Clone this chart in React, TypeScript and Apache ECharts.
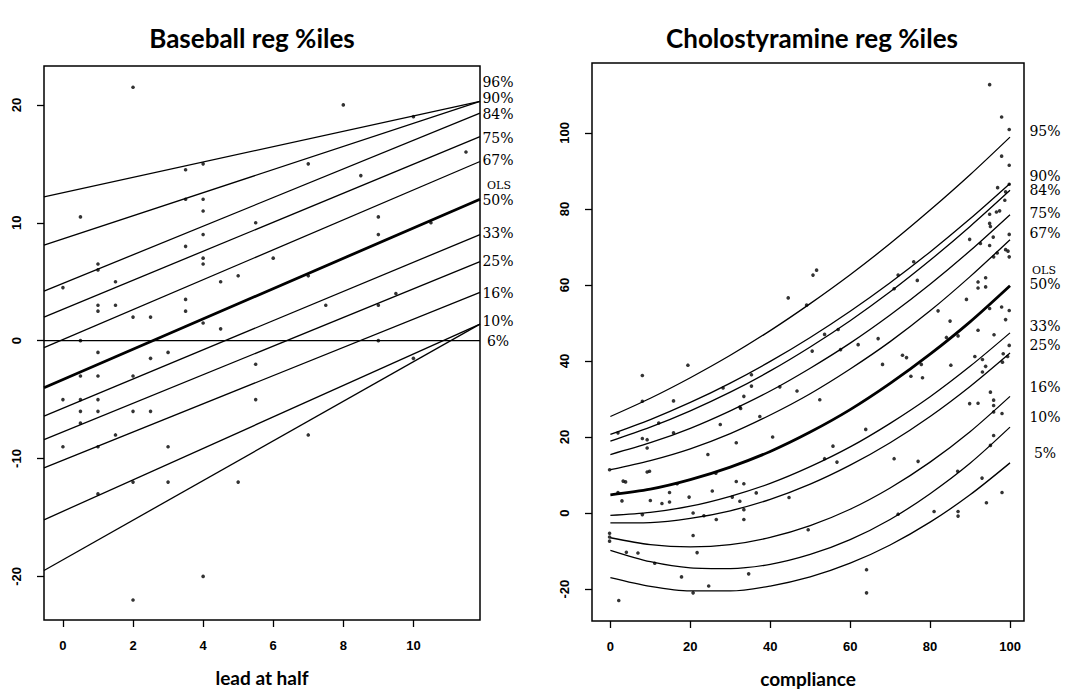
import React, { useEffect, useRef } from "react";
import * as echarts from "echarts";

// ---------- Baseball panel data ----------
const bbXRange = [-0.54, 11.9];
const bbYRange = [-23.7, 23.3];
const bbXTicks = [0, 2, 4, 6, 8, 10];
const bbYTicks = [-20, -10, 0, 10, 20];
const bbQuantiles = ["96%", "90%", "84%", "75%", "67%", "50%", "33%", "25%", "16%", "10%", "6%"];
// fitted line values at the left and right edges of the plot
const bbLeftEnd = [12.2, 8.1, 4.2, 2.0, -0.6, -4.0, -6.4, -8.4, -10.8, -15.2, -19.5];
const bbRightEnd = [20.3, 20.3, 19.3, 17.3, 15.2, 12.0, 9.0, 6.7, 4.1, 1.4, 1.4];
const bbPoints: number[][] = [
  [2, 21.5], [0.5, 10.5], [0, 4.5], [1, 6.5], [1, 6], [1.5, 5], [1, 3], [1, 2.5], [1.5, 3], [2, 2],
  [2.5, 2], [3.5, 14.5], [4, 15], [3.5, 12], [4, 12], [4, 11], [3.5, 8], [4, 9], [4, 7], [4, 6.5],
  [3.5, 3.5], [3.5, 2.5], [4, 1.5], [4.5, 5], [5, 5.5], [4.5, 1], [5.5, 10], [5.5, -2], [0.5, 0],
  [2.5, -1.5], [3, -1], [1, -1], [0.5, -3], [1, -3], [2, -3], [0, -5], [0.5, -5], [1, -5], [0.5, -6],
  [1, -6], [2, -6], [2.5, -6], [0.5, -7], [1.5, -8], [0, -9], [1, -9], [3, -9], [2, -12], [3, -12],
  [5, -12], [1, -13], [4, -20], [2, -22], [5.5, -5], [8, 20], [10, 19], [7, 15], [8.5, 14], [11.5, 16],
  [9, 10.5], [9, 9], [6, 7], [7, 5.5], [10.5, 10], [7.5, 3], [9, 3], [9.5, 4], [9, 0], [10, -1.5], [7, -8],
];

// ---------- Cholostyramine panel data ----------
const chXRange = [-4.6, 103.5];
const chYRange = [-28.4, 118.4];
const chXTicks = [0, 20, 40, 60, 80, 100];
const chYTicks = [-20, 0, 20, 40, 60, 80, 100];
const chQuantiles = ["95%", "90%", "84%", "75%", "67%", "50%", "33%", "25%", "16%", "10%", "5%"];
const chCompliance = [0, 10, 20, 30, 40, 50, 60, 70, 80, 90, 100];
const ch95 = [25.4, 30.2, 35.6, 41.5, 48.0, 55.1, 62.7, 70.9, 79.7, 89.0, 98.9];
const ch90 = [20.7, 24.6, 29.1, 34.2, 39.9, 46.2, 53.1, 60.6, 68.7, 77.4, 86.7];
const ch84 = [18.9, 22.6, 26.9, 31.8, 37.4, 43.7, 50.6, 58.2, 66.5, 75.4, 84.9];
const ch75 = [15.4, 18.5, 22.3, 26.9, 32.1, 38.1, 44.7, 52.1, 60.2, 69.0, 78.5];
const ch67 = [11.4, 13.8, 16.9, 20.9, 25.8, 31.4, 37.9, 45.1, 53.2, 62.2, 71.9];
const ch50 = [4.8, 6.3, 8.8, 12.1, 16.2, 21.3, 27.2, 34.1, 41.8, 50.3, 59.8];
const ch33 = [-0.6, 0.2, 1.8, 4.4, 7.8, 12.2, 17.4, 23.6, 30.6, 38.6, 47.4];
const ch25 = [-2.6, -2.5, -1.4, 0.6, 3.6, 7.6, 12.6, 18.5, 25.4, 33.3, 42.1];
const ch16 = [-6.5, -8.3, -8.9, -8.3, -6.4, -3.3, 1.0, 6.6, 13.4, 21.4, 30.7];
const ch10 = [-9.8, -12.8, -14.4, -14.6, -13.5, -10.9, -7.0, -1.7, 5.1, 13.1, 22.6];
const ch05 = [-17.0, -19.3, -20.5, -20.5, -19.2, -16.8, -13.2, -8.4, -2.4, 4.8, 13.2];
const chCurves = [ch95, ch90, ch84, ch75, ch67, ch50, ch33, ch25, ch16, ch10, ch05];
const chPoints: number[][] = [
  [8.0, 36.2], [19.4, 38.9], [8.0, 29.4], [15.8, 29.5], [1.9, 21.1], [12.1, 23.7], [8.0, 19.6], [9.2, 19.3],
  [9.2, 17.1], [15.8, 21.1], [-0.2, 11.4], [9.2, 10.8], [9.8, 11.0], [3.2, 8.4], [3.8, 8.2], [1.9, 5.4],
  [2.9, 3.2], [10.0, 3.3], [12.9, 2.5], [14.8, 2.9], [14.8, 5.4], [16.7, 7.7], [19.7, 4.2], [8.0, -0.4],
  [20.7, 0.0], [23.4, -0.7], [26.5, -1.7], [24.4, 15.4], [26.4, 10.5], [25.5, 5.8], [27.5, 23.3], [28.2, 32.9],
  [32.4, 27.9], [32.6, 27.5], [31.5, 18.5], [31.5, 8.3], [30.5, 4.2], [32.4, 3.1], [33.4, 7.7], [33.4, 0.9],
  [33.4, -1.7], [33.4, 30.7], [35.3, 36.4], [35.3, 33.4], [37.4, 25.4], [36.5, 5.3], [40.6, 20.0], [42.4, 33.2],
  [46.7, 32.1], [44.7, 4.1], [50.5, 42.6], [52.4, 29.8], [49.5, -4.4], [-0.2, -5.3], [-0.2, -6.3], [-0.2, -7.4],
  [4.0, -10.3], [6.9, -10.5], [11.1, -13.2], [20.7, -5.9], [21.7, -10.4], [17.8, -16.8], [24.6, -19.2],
  [20.7, -21.0], [34.6, -16.0], [2.1, -23.0],
  [94.9, 112.7], [97.9, 104.2], [99.8, 100.9], [97.9, 93.9], [99.8, 91.5], [96.9, 85.6], [98.9, 84.5],
  [99.8, 86.5], [98.7, 82.3], [94.9, 78.6], [96.6, 79.2], [97.4, 79.5], [94.9, 76.2], [95.1, 75.4], [89.9, 72.0],
  [92.6, 70.9], [95.8, 72.6], [94.9, 70.4], [99.8, 73.3], [98.9, 69.3], [99.5, 68.9], [96.8, 68.4], [95.9, 67.4],
  [99.8, 67.4], [75.9, 66.1], [72.0, 62.6], [76.8, 61.2], [71.0, 59.0], [92.0, 60.8], [93.9, 61.9], [92.0, 59.2],
  [93.9, 59.5], [89.1, 56.2], [82.0, 53.2], [85.0, 50.5], [97.9, 54.2], [99.8, 53.3], [98.9, 50.9], [94.9, 53.8],
  [92.0, 48.1], [96.0, 46.9], [99.8, 44.1], [84.1, 46.2], [87.0, 46.6], [73.1, 41.5], [74.1, 40.9], [91.2, 41.2],
  [98.3, 41.9], [99.4, 41.2], [49.1, 54.7], [50.7, 62.6], [51.6, 63.9], [53.6, 47.0], [57.0, 48.3], [57.6, 43.0],
  [62.0, 44.3], [67.0, 45.9], [68.1, 39.1], [75.2, 36.0], [78.1, 35.6], [77.8, 39.1], [85.2, 38.9], [44.5, 56.6],
  [93.1, 40.4], [93.9, 38.6], [93.1, 37.1], [98.1, 39.7], [63.9, 22.0], [55.7, 17.6], [53.6, 14.3], [56.7, 13.4],
  [71.0, 14.3], [77.0, 13.6], [89.9, 28.8], [92.0, 28.9], [95.1, 31.8], [95.9, 29.7], [95.9, 28.3], [95.9, 26.6],
  [98.0, 26.2], [95.9, 20.4], [95.1, 17.8], [93.0, 9.2], [98.0, 5.4], [94.1, 2.7], [86.9, 11.0], [81.0, 0.4],
  [87.0, 0.4], [87.0, -0.8], [72.0, -0.3], [64.1, -14.9], [64.1, -21.0],
];

// label placement (pixels) for the quantile annotations
const bbLabelY = [82, 98, 114, 138, 160, 200, 233, 261, 293, 321, 341];
const chLabelY = [131, 176, 190, 213, 233, 284, 326, 345, 387, 417, 453];

const SANS = "'Liberation Sans', Arial, sans-serif";
const SERIF = "'DejaVu Serif', serif";
const TITLE = "Lato, 'Open Sans', sans-serif";

function xAxisFor(grid: number, range: number[], ticks: number[], name: string) {
  return {
    gridIndex: grid,
    type: "value",
    min: range[0],
    max: range[1],
    splitLine: { show: false },
    axisLine: { show: false, onZero: false },
    axisTick: { show: true, inside: false, length: 7, customValues: ticks, lineStyle: { color: "#000", width: 1.3 } },
    axisLabel: { customValues: ticks, color: "#000", fontFamily: SANS, fontWeight: "bold", fontSize: 13, margin: 19 },
    name,
    nameLocation: "middle",
    nameGap: 48,
    nameTextStyle: { color: "#000", fontFamily: TITLE, fontWeight: "bold", fontSize: 19 },
  };
}

function yAxisFor(grid: number, range: number[], ticks: number[]) {
  return {
    gridIndex: grid,
    type: "value",
    min: range[0],
    max: range[1],
    splitLine: { show: false },
    axisLine: { show: false, onZero: false },
    axisTick: { show: true, inside: false, length: 7, customValues: ticks, lineStyle: { color: "#000", width: 1.3 } },
    axisLabel: { customValues: ticks, rotate: 90, color: "#000", fontFamily: SANS, fontWeight: "bold", fontSize: 13, margin: 21 },
  };
}

export default function App() {
  const ref = useRef<HTMLDivElement>(null);
  useEffect(() => {
    const chart = echarts.init(ref.current!, null, { renderer: "svg" });
    const series: any[] = [];

    // baseball zero line
    series.push({
      type: "line", xAxisIndex: 0, yAxisIndex: 0, symbol: "none", silent: true,
      data: [[bbXRange[0], 0], [bbXRange[1], 0]],
      lineStyle: { color: "#000", width: 1.1 },
    });
    bbQuantiles.forEach((q, i) => {
      series.push({
        type: "line", name: q, xAxisIndex: 0, yAxisIndex: 0, symbol: "none", silent: true,
        data: [[bbXRange[0], bbLeftEnd[i]], [bbXRange[1], bbRightEnd[i]]],
        lineStyle: { color: "#000", width: q === "50%" ? 2.8 : 1.3 },
      });
    });
    series.push({
      type: "scatter", xAxisIndex: 0, yAxisIndex: 0, data: bbPoints, symbol: "circle", symbolSize: 3.6,
      itemStyle: { color: "#000" }, silent: true,
    });

    chQuantiles.forEach((q, i) => {
      series.push({
        type: "line", name: "c" + q, xAxisIndex: 1, yAxisIndex: 1, symbol: "none", silent: true, smooth: 0.3,
        data: chCompliance.map((x, k) => [x, chCurves[i][k]]),
        lineStyle: { color: "#000", width: q === "50%" ? 2.8 : 1.3 },
      });
    });
    series.push({
      type: "scatter", xAxisIndex: 1, yAxisIndex: 1, data: chPoints, symbol: "circle", symbolSize: 3.6,
      itemStyle: { color: "#000" }, silent: true,
    });

    const labelEls: any[] = [];
    const pctFont = "14px " + SERIF;
    bbQuantiles.forEach((q, i) => {
      labelEls.push({ type: "text", x: 498, y: bbLabelY[i], style: { text: q, font: pctFont, fill: "#000", align: "center", verticalAlign: "middle" } });
    });
    labelEls.push({ type: "text", x: 499, y: 185, style: { text: "OLS", font: "11px " + SERIF, fill: "#000", align: "center", verticalAlign: "middle" } });
    chQuantiles.forEach((q, i) => {
      labelEls.push({ type: "text", x: 1045, y: chLabelY[i], style: { text: q, font: pctFont, fill: "#000", align: "center", verticalAlign: "middle" } });
    });
    labelEls.push({ type: "text", x: 1044, y: 270, style: { text: "OLS", font: "11px " + SERIF, fill: "#000", align: "center", verticalAlign: "middle" } });
    labelEls.push({ type: "text", x: 252, y: 38, style: { text: "Baseball reg %iles", font: "bold 26px " + TITLE, fill: "#000", align: "center", verticalAlign: "middle" } });
    labelEls.push({ type: "text", x: 812, y: 38, style: { text: "Cholostyramine reg %iles", font: "bold 26px " + TITLE, fill: "#000", align: "center", verticalAlign: "middle" } });

    chart.setOption({
      animation: false,
      backgroundColor: "#fff",
      grid: [
        { left: 44, top: 66, width: 436, height: 554, show: true, borderColor: "#000", borderWidth: 1.5, backgroundColor: "transparent" },
        { left: 592, top: 63, width: 432, height: 558, show: true, borderColor: "#000", borderWidth: 1.5, backgroundColor: "transparent" },
      ],
      xAxis: [
        xAxisFor(0, bbXRange, bbXTicks, "lead at half"),
        xAxisFor(1, chXRange, chXTicks, "compliance"),
      ],
      yAxis: [yAxisFor(0, bbYRange, bbYTicks), yAxisFor(1, chYRange, chYTicks)],
      series,
      graphic: labelEls,
    });
    return () => chart.dispose();
  }, []);
  return <div ref={ref} style={{ position: "fixed", left: 0, top: 0, width: 1065, height: 695, background: "#fff" }} />;
}
